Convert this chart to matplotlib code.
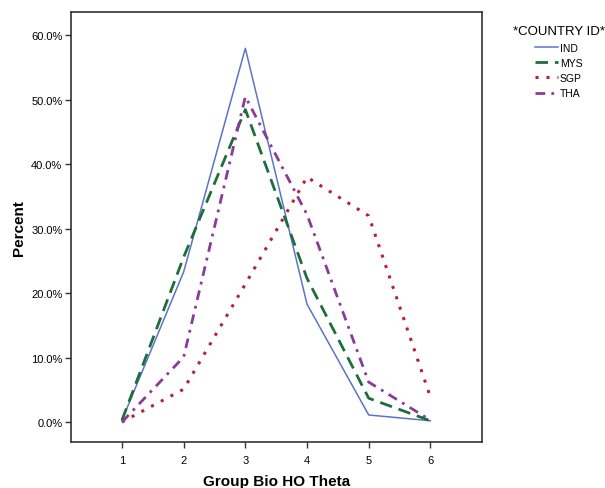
import matplotlib
matplotlib.use("Agg")
import matplotlib.pyplot as plt
from matplotlib.ticker import FuncFormatter

plt.rcParams['font.family'] = ['Liberation Sans', 'DejaVu Sans']

groups = [1, 2, 3, 4, 5, 6]
ind = [0.3, 23.3, 58.0, 18.3, 1.1, 0.2]
mys = [0.3, 25.6, 48.5, 22.3, 3.7, 0.2]
sgp = [0.0, 5.1, 21.4, 38.0, 32.0, 3.9]
tha = [0.0, 10.1, 50.5, 32.2, 6.2, 0.3]
y_ticks = [0, 10, 20, 30, 40, 50, 60]

fig = plt.figure(figsize=(6.05, 4.89), dpi=100)
ax = fig.add_axes([0.117, 0.094, 0.680, 0.879])

ax.plot(groups, ind, color='#5b74c6', lw=1.1, ls='-', label='IND')
ax.plot(groups, mys, color='#1e6e3c', lw=2.0, ls=(0, (4.5, 2.5)), label='MYS')
ax.plot(groups, sgp, color='#b52430', lw=2.2, ls=(0, (1, 2.6)), label='SGP')
ax.plot(groups, tha, color='#8a3a98', lw=2.0, ls=(0, (3.5, 2.2, 1, 2.2)), label='THA')

ax.set_xlim(0.17, 6.84)
ax.set_ylim(-3.1, 63.6)
ax.set_xticks(groups)
ax.set_yticks(y_ticks)
ax.yaxis.set_major_formatter(FuncFormatter(lambda v, p: f"{v:.1f}%"))
ax.tick_params(axis='both', labelsize=8, length=4, width=1, color='#333333', direction='out')
ax.tick_params(axis='y', pad=2)
ax.tick_params(axis='x', pad=5)
for s in ax.spines.values():
    s.set_color('#333333')
    s.set_linewidth(1.2)

ax.set_xlabel('Group Bio HO Theta', fontsize=11, fontweight='bold', labelpad=7)
ax.set_ylabel('Percent', fontsize=11, fontweight='bold', labelpad=4)

leg = fig.legend(loc='upper left', bbox_to_anchor=(0.832, 0.965), frameon=False,
                 title='*COUNTRY ID*', fontsize=7.5, title_fontsize=9.5,
                 handlelength=2.2, handletextpad=0.2, labelspacing=0.5)
leg._legend_box.align = 'center'

fig.savefig('out.png', dpi=100)
